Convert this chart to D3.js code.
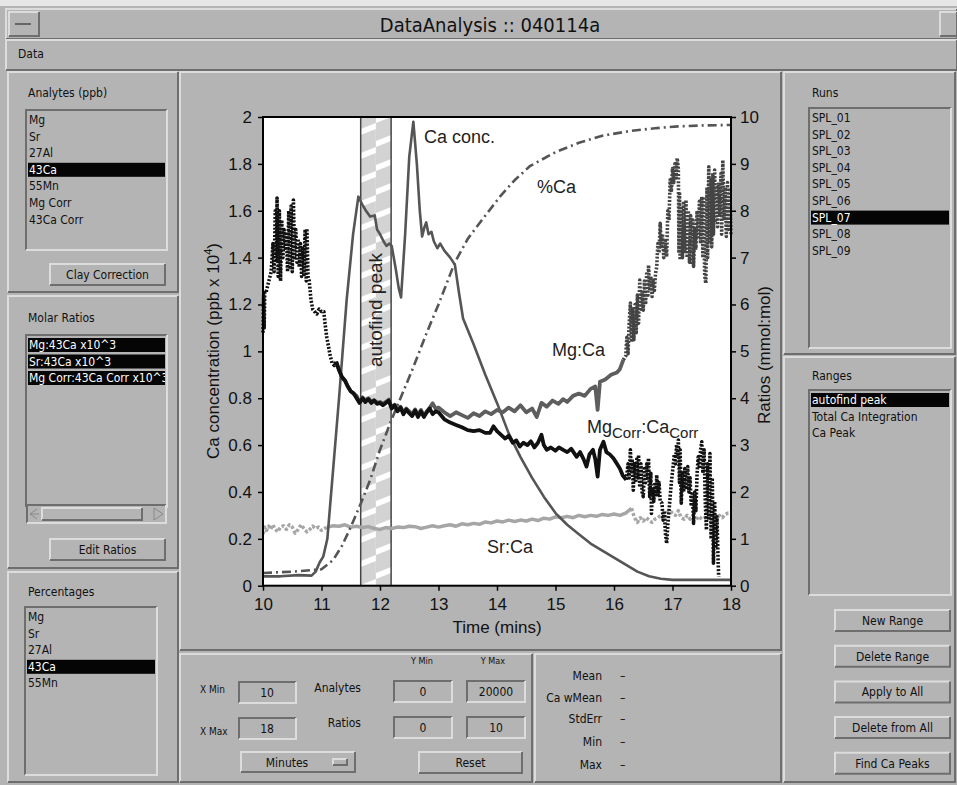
<!DOCTYPE html>
<html>
<head>
<meta charset="utf-8">
<script src="https://cdn.jsdelivr.net/npm/d3@7"></script>
<style>
  html, body { margin: 0; padding: 0; background: #b4b4b4; }
  svg { display: block; }
  .ui { font-family: "Liberation Sans Narrow", "DejaVu Sans Condensed", "Liberation Sans", sans-serif; font-size: 12px; }
  .chart { font-family: "Liberation Sans", Arial, sans-serif; }
</style>
</head>
<body>
<svg id="app" width="957" height="785"></svg>
<script>
// ---- chart data ----
const xTicks = [10, 11, 12, 13, 14, 15, 16, 17, 18];
const leftTicks = [0, 0.2, 0.4, 0.6, 0.8, 1, 1.2, 1.4, 1.6, 1.8, 2];
const rightTicks = [0, 1, 2, 3, 4, 5, 6, 7, 8, 9, 10];
const peakRange = [11.67, 12.19];

// Ca concentration (ppb x 10^4), left axis
const caConc = [
  [10.0,0.04],[10.3,0.04],[10.6,0.045],[10.83,0.043],[10.9,0.06],[10.97,0.1],[11.03,0.124],[11.1,0.2],
  [11.15,0.35],[11.2,0.5],[11.25,0.65],[11.3,0.8],[11.34,0.93],[11.43,1.22],[11.54,1.5],[11.63,1.66],
  [11.7,1.625],[11.76,1.6],[11.83,1.575],[11.91,1.58],[11.95,1.52],[12.0,1.5],[12.06,1.47],[12.11,1.45],
  [12.16,1.46],[12.2,1.45],[12.27,1.35],[12.32,1.27],[12.36,1.23],[12.43,1.5],[12.5,1.83],[12.57,1.98],
  [12.63,1.8],[12.68,1.6],[12.72,1.49],[12.76,1.53],[12.79,1.55],[12.83,1.5],[12.88,1.51],[12.92,1.47],
  [12.98,1.44],[13.03,1.46],[13.1,1.43],[13.2,1.4],[13.28,1.37],[13.35,1.25],[13.42,1.14],[13.6,1.03],
  [13.8,0.9],[14.0,0.78],[14.2,0.65],[14.4,0.55],[14.6,0.46],[14.8,0.38],[15.0,0.31],[15.2,0.26],
  [15.4,0.22],[15.6,0.18],[15.8,0.15],[16.0,0.12],[16.2,0.09],[16.4,0.06],[16.6,0.04],[16.8,0.03],
  [17.0,0.025],[17.5,0.025],[18.0,0.025]
];

// %Ca (cumulative percent of Ca signal)
const pctCa = [
  [10.0,2.7],[10.5,3.0],[11.0,3.5],[11.2,5.5],[11.35,8.5],[11.5,12.5],[11.67,17.5],[11.83,22.5],
  [12.0,29],[12.2,35.5],[12.4,41.5],[12.55,46],[12.8,54],[13.0,60],[13.28,69],[13.5,74],[13.71,77.5],
  [14.05,83],[14.3,86.5],[14.56,89.5],[15.0,92.5],[15.4,94.5],[15.8,96],[16.27,97],[16.7,97.6],
  [17.1,98],[17.5,98.2],[18.0,98.3]
];

// Mg:Ca (mmol:mol), right axis - low-signal head, main run, low-signal tail
const mgCaHead = [
  [10.0,5.4],[10.01,6.2],[10.02,5.5],[10.03,6.3],[10.05,6.25],[10.08,6.4],[10.11,6.55],[10.14,6.7],
  [10.17,7.3],[10.19,6.7],[10.21,8.0],[10.23,6.9],[10.24,8.27],[10.26,6.6],[10.28,8.0],[10.3,6.5],
  [10.32,7.8],[10.34,7.0],[10.36,7.6],[10.38,7.2],[10.4,7.5],[10.42,6.7],[10.44,8.0],[10.46,6.8],
  [10.48,8.1],[10.5,6.7],[10.52,8.23],[10.54,7.0],[10.56,7.6],[10.58,6.9],[10.6,7.4],[10.62,6.8],
  [10.64,7.3],[10.66,6.6],[10.68,7.2],[10.7,6.6],[10.72,7.6],[10.74,6.5],[10.75,7.62],[10.77,6.6],
  [10.79,6.5],[10.82,6.1],[10.85,5.9],[10.88,5.85],[10.92,5.8],[10.96,5.9],[11.0,5.85],[11.04,5.85],
  [11.06,5.6],[11.09,5.3],[11.12,5.1],[11.15,4.9],[11.18,4.75],[11.22,4.7],[11.25,4.78]
];
const mgCaMain = [
  [11.25,4.78],[11.3,4.6],[11.35,4.45],[11.4,4.38],[11.45,4.25],[11.5,4.15],[11.55,4.1],[11.6,4.05],
  [11.65,3.92],[11.7,4.02],[11.75,3.95],[11.8,4.0],[11.85,3.93],[11.9,3.96],[11.95,3.9],[12.0,3.92],
  [12.05,3.88],[12.1,3.92],[12.15,3.97],[12.2,3.8],[12.25,3.86],[12.3,3.75],[12.35,3.82],[12.4,3.7],
  [12.45,3.78],[12.5,3.72],[12.55,3.66],[12.6,3.76],[12.65,3.65],[12.7,3.75],[12.75,3.62],[12.8,3.72],
  [12.85,3.8],[12.9,3.89],[12.95,3.78],[13.0,3.8],[13.1,3.7],[13.2,3.62],[13.3,3.7],[13.4,3.64],
  [13.5,3.58],[13.6,3.68],[13.7,3.62],[13.8,3.72],[13.9,3.66],[14.0,3.75],[14.1,3.7],[14.2,3.8],
  [14.3,3.72],[14.4,3.85],[14.5,3.7],[14.6,3.78],[14.68,3.6],[14.76,3.9],[14.85,3.82],[14.95,3.95],
  [15.05,3.88],[15.13,3.98],[15.2,3.92],[15.3,4.05],[15.4,4.1],[15.5,4.05],[15.6,4.2],[15.68,4.25],
  [15.72,3.75],[15.76,4.35],[15.85,4.4],[15.95,4.5],[16.05,4.55],[16.1,4.62],[16.16,4.82]
];
const mgCaTail = [
  [16.16,4.82],[16.2,4.9],[16.22,5.3],[16.24,4.95],[16.26,5.6],[16.28,6.03],[16.3,5.2],[16.32,5.9],
  [16.34,5.25],[16.36,6.0],[16.38,5.4],[16.4,6.2],[16.42,5.6],[16.44,6.52],[16.46,5.9],[16.48,6.3],
  [16.5,5.88],[16.52,6.5],[16.54,6.0],[16.56,6.7],[16.58,6.2],[16.59,6.84],[16.61,6.3],[16.63,6.6],
  [16.65,6.17],[16.67,6.5],[16.69,6.3],[16.71,6.66],[16.73,6.8],[16.75,7.3],[16.77,7.1],[16.79,7.73],
  [16.81,7.2],[16.83,7.5],[16.85,7.0],[16.87,7.4],[16.9,7.02],[16.92,8.0],[16.94,7.8],[16.96,8.66],
  [16.98,8.4],[17.0,8.9],[17.02,8.6],[17.04,9.0],[17.06,8.7],[17.08,9.12],[17.1,8.9],[17.11,7.1],
  [17.12,8.4],[17.13,6.95],[17.15,8.1],[17.17,7.0],[17.19,8.2],[17.21,7.1],[17.23,8.23],[17.25,7.0],
  [17.27,8.0],[17.29,6.9],[17.31,7.9],[17.33,6.85],[17.35,7.8],[17.36,6.81],[17.38,7.6],[17.4,7.2],
  [17.42,8.0],[17.44,7.4],[17.46,8.2],[17.48,7.3],[17.5,8.3],[17.52,7.0],[17.53,8.3],[17.55,6.6],
  [17.57,6.45],[17.59,8.5],[17.6,7.0],[17.62,8.94],[17.64,7.3],[17.66,8.7],[17.67,7.23],[17.69,8.8],
  [17.7,7.5],[17.72,8.87],[17.74,7.8],[17.76,8.5],[17.77,7.66],[17.79,8.6],[17.81,7.9],[17.83,8.8],
  [17.84,7.5],[17.86,9.08],[17.88,7.8],[17.9,8.5],[17.92,7.45],[17.94,8.6],[17.96,7.6],[17.98,8.44],
  [18.0,7.5]
];

// MgCorr:CaCorr (mmol:mol), right axis
const mgCorrMain = [
  [11.25,4.78],[11.3,4.6],[11.35,4.45],[11.4,4.38],[11.45,4.25],[11.5,4.15],[11.55,4.1],[11.6,4.0],
  [11.65,3.9],[11.7,4.0],[11.75,3.92],[11.8,3.98],[11.85,3.9],[11.9,3.95],[11.95,3.88],[12.0,3.9],
  [12.05,3.85],[12.1,3.9],[12.15,3.95],[12.2,3.78],[12.25,3.85],[12.3,3.72],[12.35,3.8],[12.4,3.66],
  [12.45,3.76],[12.5,3.68],[12.55,3.62],[12.6,3.74],[12.65,3.6],[12.7,3.72],[12.75,3.6],[12.8,3.7],
  [12.85,3.78],[12.9,3.66],[12.95,3.72],[13.0,3.7],[13.1,3.55],[13.2,3.48],[13.3,3.43],[13.4,3.38],
  [13.5,3.32],[13.6,3.3],[13.7,3.32],[13.8,3.26],[13.88,3.26],[13.94,3.4],[14.0,3.3],[14.07,3.22],
  [14.14,3.14],[14.2,3.2],[14.27,3.05],[14.33,3.1],[14.39,2.97],[14.45,3.05],[14.52,3.0],[14.58,3.08],
  [14.64,2.95],[14.7,3.05],[14.76,3.22],[14.8,3.0],[14.85,2.9],[14.92,2.95],[15.0,2.88],[15.06,2.95],
  [15.13,2.9],[15.2,2.85],[15.27,2.92],[15.36,2.75],[15.42,2.85],[15.48,2.7],[15.53,2.54],[15.58,2.8],
  [15.64,2.9],[15.68,2.7],[15.72,2.33],[15.76,2.9],[15.82,3.07],[15.87,2.85],[15.93,2.8],[15.99,2.72],
  [16.05,2.6],[16.1,2.5],[16.15,2.35],[16.21,2.26]
];
const mgCorrTail = [
  [16.21,2.26],[16.24,2.6],[16.26,2.3],[16.28,2.9],[16.3,2.4],[16.31,2.7],[16.33,2.04],[16.35,2.6],
  [16.37,2.2],[16.39,2.7],[16.41,2.3],[16.42,2.79],[16.44,2.1],[16.46,2.6],[16.48,2.0],[16.5,1.9],
  [16.52,2.5],[16.54,2.2],[16.56,2.6],[16.58,2.3],[16.59,2.72],[16.61,1.9],[16.63,2.4],[16.64,1.54],
  [16.66,2.1],[16.68,1.8],[16.7,2.2],[16.72,1.9],[16.73,2.36],[16.75,1.9],[16.77,2.2],[16.79,1.8],
  [16.82,1.76],[16.84,1.4],[16.86,1.6],[16.88,1.1],[16.9,0.9],[16.92,1.3],[16.94,1.6],[16.96,1.9],
  [16.98,2.2],[17.01,2.54],[17.03,2.8],[17.05,2.6],[17.07,3.0],[17.09,2.8],[17.1,3.11],[17.12,2.2],
  [17.13,2.9],[17.15,1.76],[17.17,2.4],[17.19,2.0],[17.21,2.5],[17.23,2.1],[17.26,2.54],[17.28,2.0],
  [17.3,2.3],[17.32,1.7],[17.34,2.0],[17.36,1.33],[17.38,2.0],[17.4,1.6],[17.42,2.4],[17.44,2.75],
  [17.46,2.5],[17.48,2.9],[17.5,3.07],[17.52,2.4],[17.54,2.9],[17.56,1.8],[17.58,1.19],[17.6,2.6],
  [17.62,1.4],[17.64,2.82],[17.66,1.0],[17.68,2.3],[17.7,0.48],[17.72,1.8],[17.74,0.8],[17.76,1.47],
  [17.78,0.5],[17.79,0.19]
];

// Sr:Ca (mmol:mol), right axis
const srCaHead = [
  [10.0,1.1],[10.03,1.25],[10.06,1.18],[10.1,1.27],[10.13,1.2],[10.17,1.3],[10.2,1.22],[10.25,1.15],
  [10.3,1.25],[10.35,1.28],[10.4,1.2],[10.45,1.3],[10.5,1.25],[10.55,1.12],[10.6,1.2],[10.65,1.3],
  [10.7,1.22],[10.75,1.15],[10.8,1.2],[10.85,1.27],[10.9,1.22],[10.95,1.25],[11.0,1.18],[11.05,1.22],
  [11.1,1.25]
];
const srCaMain = [
  [11.1,1.25],[11.2,1.28],[11.3,1.27],[11.4,1.3],[11.5,1.25],[11.6,1.27],[11.7,1.24],[11.8,1.26],
  [11.9,1.22],[12.0,1.2],[12.1,1.24],[12.2,1.22],[12.3,1.25],[12.4,1.24],[12.5,1.27],[12.6,1.26],
  [12.7,1.22],[12.8,1.25],[12.9,1.28],[13.0,1.25],[13.1,1.28],[13.2,1.3],[13.3,1.27],[13.4,1.32],
  [13.5,1.3],[13.6,1.33],[13.7,1.31],[13.8,1.36],[13.9,1.34],[14.0,1.38],[14.1,1.36],[14.2,1.4],
  [14.3,1.37],[14.4,1.4],[14.5,1.38],[14.6,1.42],[14.7,1.39],[14.8,1.44],[14.9,1.42],[15.0,1.47],
  [15.1,1.45],[15.2,1.48],[15.3,1.45],[15.4,1.5],[15.5,1.47],[15.6,1.5],[15.7,1.48],[15.8,1.52],
  [15.9,1.5],[16.0,1.53],[16.1,1.5],[16.2,1.55],[16.3,1.65]
];
const srCaTail = [
  [16.3,1.65],[16.35,1.45],[16.4,1.35],[16.45,1.45],[16.5,1.38],[16.55,1.45],[16.6,1.4],[16.65,1.35],
  [16.7,1.42],[16.75,1.45],[16.8,1.5],[16.85,1.42],[16.9,1.55],[16.95,1.6],[17.0,1.55],[17.05,1.5],
  [17.1,1.6],[17.15,1.45],[17.2,1.42],[17.25,1.5],[17.3,1.42],[17.35,1.45],[17.4,1.4],[17.45,1.48],
  [17.5,1.42],[17.55,1.45],[17.6,1.5],[17.65,1.45],[17.7,1.52],[17.75,1.45],[17.8,1.5],[17.85,1.45],
  [17.9,1.52],[17.95,1.55],[18.0,1.55]
];

// ---- interface lists ----
const analytes = ["Mg", "Sr", "27Al", "43Ca", "55Mn", "Mg Corr", "43Ca Corr"];
const molarRatios = ["Mg:43Ca x10^3", "Sr:43Ca x10^3", "Mg Corr:43Ca Corr x10^3"];
const percentages = ["Mg", "Sr", "27Al", "43Ca", "55Mn"];
const runs = ["SPL_01","SPL_02","SPL_03","SPL_04","SPL_05","SPL_06","SPL_07","SPL_08","SPL_09"];
const ranges = ["autofind peak", "Total Ca Integration", "Ca Peak"];
const rangeButtons = ["New Range", "Delete Range", "Apply to All", "Delete from All", "Find Ca Peaks"];
const statNames = ["Mean", "Ca wMean", "StdErr", "Min", "Max"];

const svg = d3.select("#app");
const LIGHT = "#dcdcdc", DARK = "#6e6e6e", BG = "#b4b4b4";

// raised or sunken box with a two-tone bevel
function bevel(x, y, w, h, raised, fill) {
  const g = svg.append("g");
  g.append("rect").attr("x", x).attr("y", y).attr("width", w).attr("height", h).attr("fill", fill || BG);
  const tl = raised ? LIGHT : DARK, br = raised ? DARK : LIGHT;
  g.append("path").attr("d", `M${x},${y + h}V${y}H${x + w}`).attr("fill", "none").attr("stroke", tl).attr("stroke-width", 2);
  g.append("path").attr("d", `M${x + w},${y}V${y + h}H${x}`).attr("fill", "none").attr("stroke", br).attr("stroke-width", 2);
  return g;
}
function label(x, y, t, anchor, size, fill) {
  return svg.append("text").attr("class", "ui").attr("x", x).attr("y", y)
    .attr("text-anchor", anchor || "start").style("font-size", (size || 12) + "px")
    .style("fill", fill || "#111").text(t);
}
function button(x, y, w, h, t) {
  bevel(x, y, w, h, true);
  label(x + w / 2, y + h / 2 + 4.5, t, "middle");
}
function listbox(x, y, w, h, items, selected, rowH) {
  bevel(x, y, w, h, false);
  const clipId = "clip" + Math.round(x) + "_" + Math.round(y);
  svg.append("clipPath").attr("id", clipId).append("rect").attr("x", x + 2).attr("y", y + 2).attr("width", w - 4).attr("height", h - 4);
  const g = svg.append("g").attr("clip-path", `url(#${clipId})`);
  items.forEach((it, i) => {
    const ty = y + 14 + i * rowH;
    const sel = selected.includes(i);
    if (sel) {
      g.append("rect").attr("x", x + 2).attr("y", ty - 11).attr("width", w - 4).attr("height", 14).attr("fill", "#050505");
    }
    g.append("text").attr("class", "ui").attr("x", x + 3).attr("y", ty).style("font-size", "12px")
      .style("fill", sel ? "#fff" : "#111").text(it);
  });
}

// window chrome
svg.append("rect").attr("width", 957).attr("height", 785).attr("fill", BG);
svg.append("rect").attr("width", 957).attr("height", 6).attr("fill", "#e6e6e6");
bevel(6, 9, 951, 30, true);
bevel(9, 12, 30, 24, true);
svg.append("line").attr("x1", 15).attr("x2", 31).attr("y1", 24).attr("y2", 24).attr("stroke", "#666").attr("stroke-width", 2);
bevel(940, 12, 17, 24, true);
label(490, 32, "DataAnalysis :: 040114a", "middle", 20, "#111");
bevel(6, 40, 951, 30, true);
label(18, 58, "Data", "start", 12);

// left column
bevel(8, 72, 170, 220, true);
label(28, 97, "Analytes (ppb)");
listbox(26, 110, 141, 140, analytes, [3], 16.6);
button(50, 264, 115, 21, "Clay Correction");

bevel(8, 296, 170, 272, true);
label(28, 322, "Molar Ratios");
listbox(26, 335, 141, 172, molarRatios, [0, 1, 2], 16.5);
bevel(27, 505, 139, 18, false);
bevel(42, 508, 100, 12, true);
svg.append("path").attr("d", "M39,514 L30,514 M30,514 L37,509 M30,514 L37,519").attr("stroke", "#888").attr("fill", "none");
svg.append("path").attr("d", "M154,508 L163,514 L154,520 Z").attr("stroke", "#888").attr("fill", "none");
button(50, 539, 115, 21, "Edit Ratios");

bevel(8, 572, 170, 210, true);
label(28, 596, "Percentages");
listbox(25, 607, 132, 168, percentages, [3], 16.6);

// right column
bevel(784, 72, 171, 282, true);
label(812, 97, "Runs");
listbox(809, 108, 142, 240, runs, [6], 16.6);

bevel(784, 357, 171, 425, true);
label(812, 380, "Ranges");
listbox(809, 390, 142, 205, ranges, [0], 16.6);
rangeButtons.forEach((b, i) => button(835, 610 + i * 35.7, 115, 21, b));

// centre panels
bevel(180, 72, 601, 578, true);
bevel(180, 654, 352, 128, true);
bevel(535, 654, 246, 128, true);

label(200, 693, "X Min", "start", 10);
label(200, 735, "X Max", "start", 10);
bevel(239, 682, 57, 21, false); label(267, 697, "10", "middle");
bevel(239, 718, 57, 21, false); label(267, 733, "18", "middle");
label(361, 692, "Analytes", "end");
label(361, 727, "Ratios", "end");
label(422, 664, "Y Min", "middle", 9);
label(493, 664, "Y Max", "middle", 9);
bevel(394, 681, 58, 21, false); label(423, 696, "0", "middle");
bevel(467, 681, 58, 21, false); label(496, 696, "20000", "middle");
bevel(394, 717, 58, 21, false); label(423, 732, "0", "middle");
bevel(467, 717, 58, 21, false); label(496, 732, "10", "middle");
bevel(241, 752, 114, 20, true); label(287, 767, "Minutes", "middle");
bevel(333, 759, 14, 6, true);
button(419, 752, 103, 21, "Reset");

statNames.forEach((s, i) => {
  const yy = [680, 702, 723, 746, 769][i];
  label(602, yy, s, "end");
  label(620, yy, "\u2013", "start");
});

// ---- the chart ----
const x = d3.scaleLinear().domain([10, 18]).range([263, 731]);
const yL = d3.scaleLinear().domain([0, 2]).range([585.7, 117]);
const yR = d3.scaleLinear().domain([0, 10]).range([585.7, 117]);
const yP = d3.scaleLinear().domain([0, 100]).range([585.7, 117]);

const chart = svg.append("g").attr("class", "chart");
chart.append("rect").attr("x", x(10)).attr("y", yL(2)).attr("width", x(18) - x(10)).attr("height", yL(0) - yL(2)).attr("fill", "#fff");

// hatched autofind range: two offset columns of grey blocks split by slanted white stripes
const defs = svg.append("defs");
const x0 = x(peakRange[0]), x1 = x(peakRange[1]), half = (x1 - x0) / 2;
[0, 1].forEach(k => {
  const pat = defs.append("pattern").attr("id", "hatch" + k).attr("patternUnits", "userSpaceOnUse")
    .attr("width", half).attr("height", 24).attr("x", x0 + k * half).attr("y", 117 + k * 12);
  pat.append("rect").attr("width", half).attr("height", 24).attr("fill", "#d3d3d3");
  pat.append("path").attr("d", `M0,12 L${half},6 L${half},12 L0,18 Z`).attr("fill", "#fff");
  chart.append("rect").attr("x", x0 + k * half).attr("y", yL(2)).attr("width", half)
    .attr("height", yL(0) - yL(2)).attr("fill", `url(#hatch${k})`);
});
[x0, x1].forEach(v => chart.append("line").attr("x1", v).attr("x2", v).attr("y1", yL(2)).attr("y2", yL(0)).attr("stroke", "#444").attr("stroke-width", 1.5));
chart.append("text").attr("transform", `translate(${(x0 + x1) / 2 + 6},310) rotate(-90)`)
  .attr("text-anchor", "middle").style("font-size", "19px").attr("fill", "#222").text("autofind peak");

const lineR = d3.line().x(d => x(d[0])).y(d => yR(d[1]));
const lineL = d3.line().x(d => x(d[0])).y(d => yL(d[1]));
const lineP = d3.line().x(d => x(d[0])).y(d => yP(d[1]));
function draw(gen, data, color, width, dash) {
  const p = chart.append("path").datum(data).attr("d", gen).attr("fill", "none")
    .attr("stroke", color).attr("stroke-width", width).attr("stroke-linejoin", "round");
  if (dash) p.attr("stroke-dasharray", dash);
  return p;
}

draw(lineR, srCaHead, "#a6a6a6", 3.5, "3,2");
draw(lineR, srCaMain, "#a6a6a6", 3.5);
draw(lineR, srCaTail, "#a6a6a6", 3.5, "3,2");
draw(lineP, pctCa, "#555", 2.6, "9,4,2,4");
draw(lineL, caConc, "#555", 2.6);
draw(lineR, mgCaMain, "#5e5e5e", 3.8);
draw(lineR, mgCaTail, "#444", 3.6, "2,1.6");
draw(lineR, mgCorrMain, "#111", 3.8);
draw(lineR, mgCorrTail, "#111", 3.6, "2,1.6");
draw(lineR, mgCaHead, "#111", 3.6, "2,1.6");

// frame and axes
chart.append("rect").attr("x", x(10)).attr("y", yL(2)).attr("width", x(18) - x(10)).attr("height", yL(0) - yL(2))
  .attr("fill", "none").attr("stroke", "#000").attr("stroke-width", 2);
const fmt = d => String(d);
const axL = chart.append("g").attr("transform", `translate(${x(10)},0)`)
  .call(d3.axisLeft(yL).tickValues(leftTicks).tickFormat(fmt).tickSize(5).tickPadding(6));
const axR = chart.append("g").attr("transform", `translate(${x(18)},0)`)
  .call(d3.axisRight(yR).tickValues(rightTicks).tickFormat(fmt).tickSize(5).tickPadding(4));
const axB = chart.append("g").attr("transform", `translate(0,${yL(0)})`)
  .call(d3.axisBottom(x).tickValues(xTicks).tickFormat(fmt).tickSize(5).tickPadding(7));
[axL, axR, axB].forEach(a => {
  a.select(".domain").remove();
  a.selectAll("line").attr("stroke", "#000").attr("stroke-width", 1.5);
  a.selectAll("text").attr("fill", "#111").style("font-size", "17px").style("font-family", "'Liberation Sans', Arial, sans-serif");
});

// axis titles
const tl = chart.append("text").attr("transform", "translate(219,351) rotate(-90)").attr("text-anchor", "middle")
  .style("font-size", "17px").attr("fill", "#111");
tl.append("tspan").text("Ca concentration (ppb x 10");
tl.append("tspan").attr("dy", -7).style("font-size", "11px").text("4");
tl.append("tspan").attr("dy", 7).text(")");
chart.append("text").attr("transform", "translate(770,355) rotate(-90)").attr("text-anchor", "middle")
  .style("font-size", "17px").attr("fill", "#111").text("Ratios (mmol:mol)");
chart.append("text").attr("x", 497).attr("y", 633).attr("text-anchor", "middle")
  .style("font-size", "17px").attr("fill", "#111").text("Time (mins)");

// series labels
function note(xx, yy, t) {
  return chart.append("text").attr("x", xx).attr("y", yy).style("font-size", "18px").attr("fill", "#222").text(t);
}
note(424, 143, "Ca conc.");
note(537, 193, "%Ca");
note(552, 356, "Mg:Ca");
note(487, 553, "Sr:Ca");
const mc = chart.append("text").attr("x", 587).attr("y", 433).style("font-size", "18px").attr("fill", "#222");
mc.append("tspan").text("Mg");
mc.append("tspan").attr("dy", 5).style("font-size", "15px").text("Corr");
mc.append("tspan").attr("dy", -5).text(":Ca");
mc.append("tspan").attr("dy", 5).style("font-size", "15px").text("Corr");
</script>
</body>
</html>
